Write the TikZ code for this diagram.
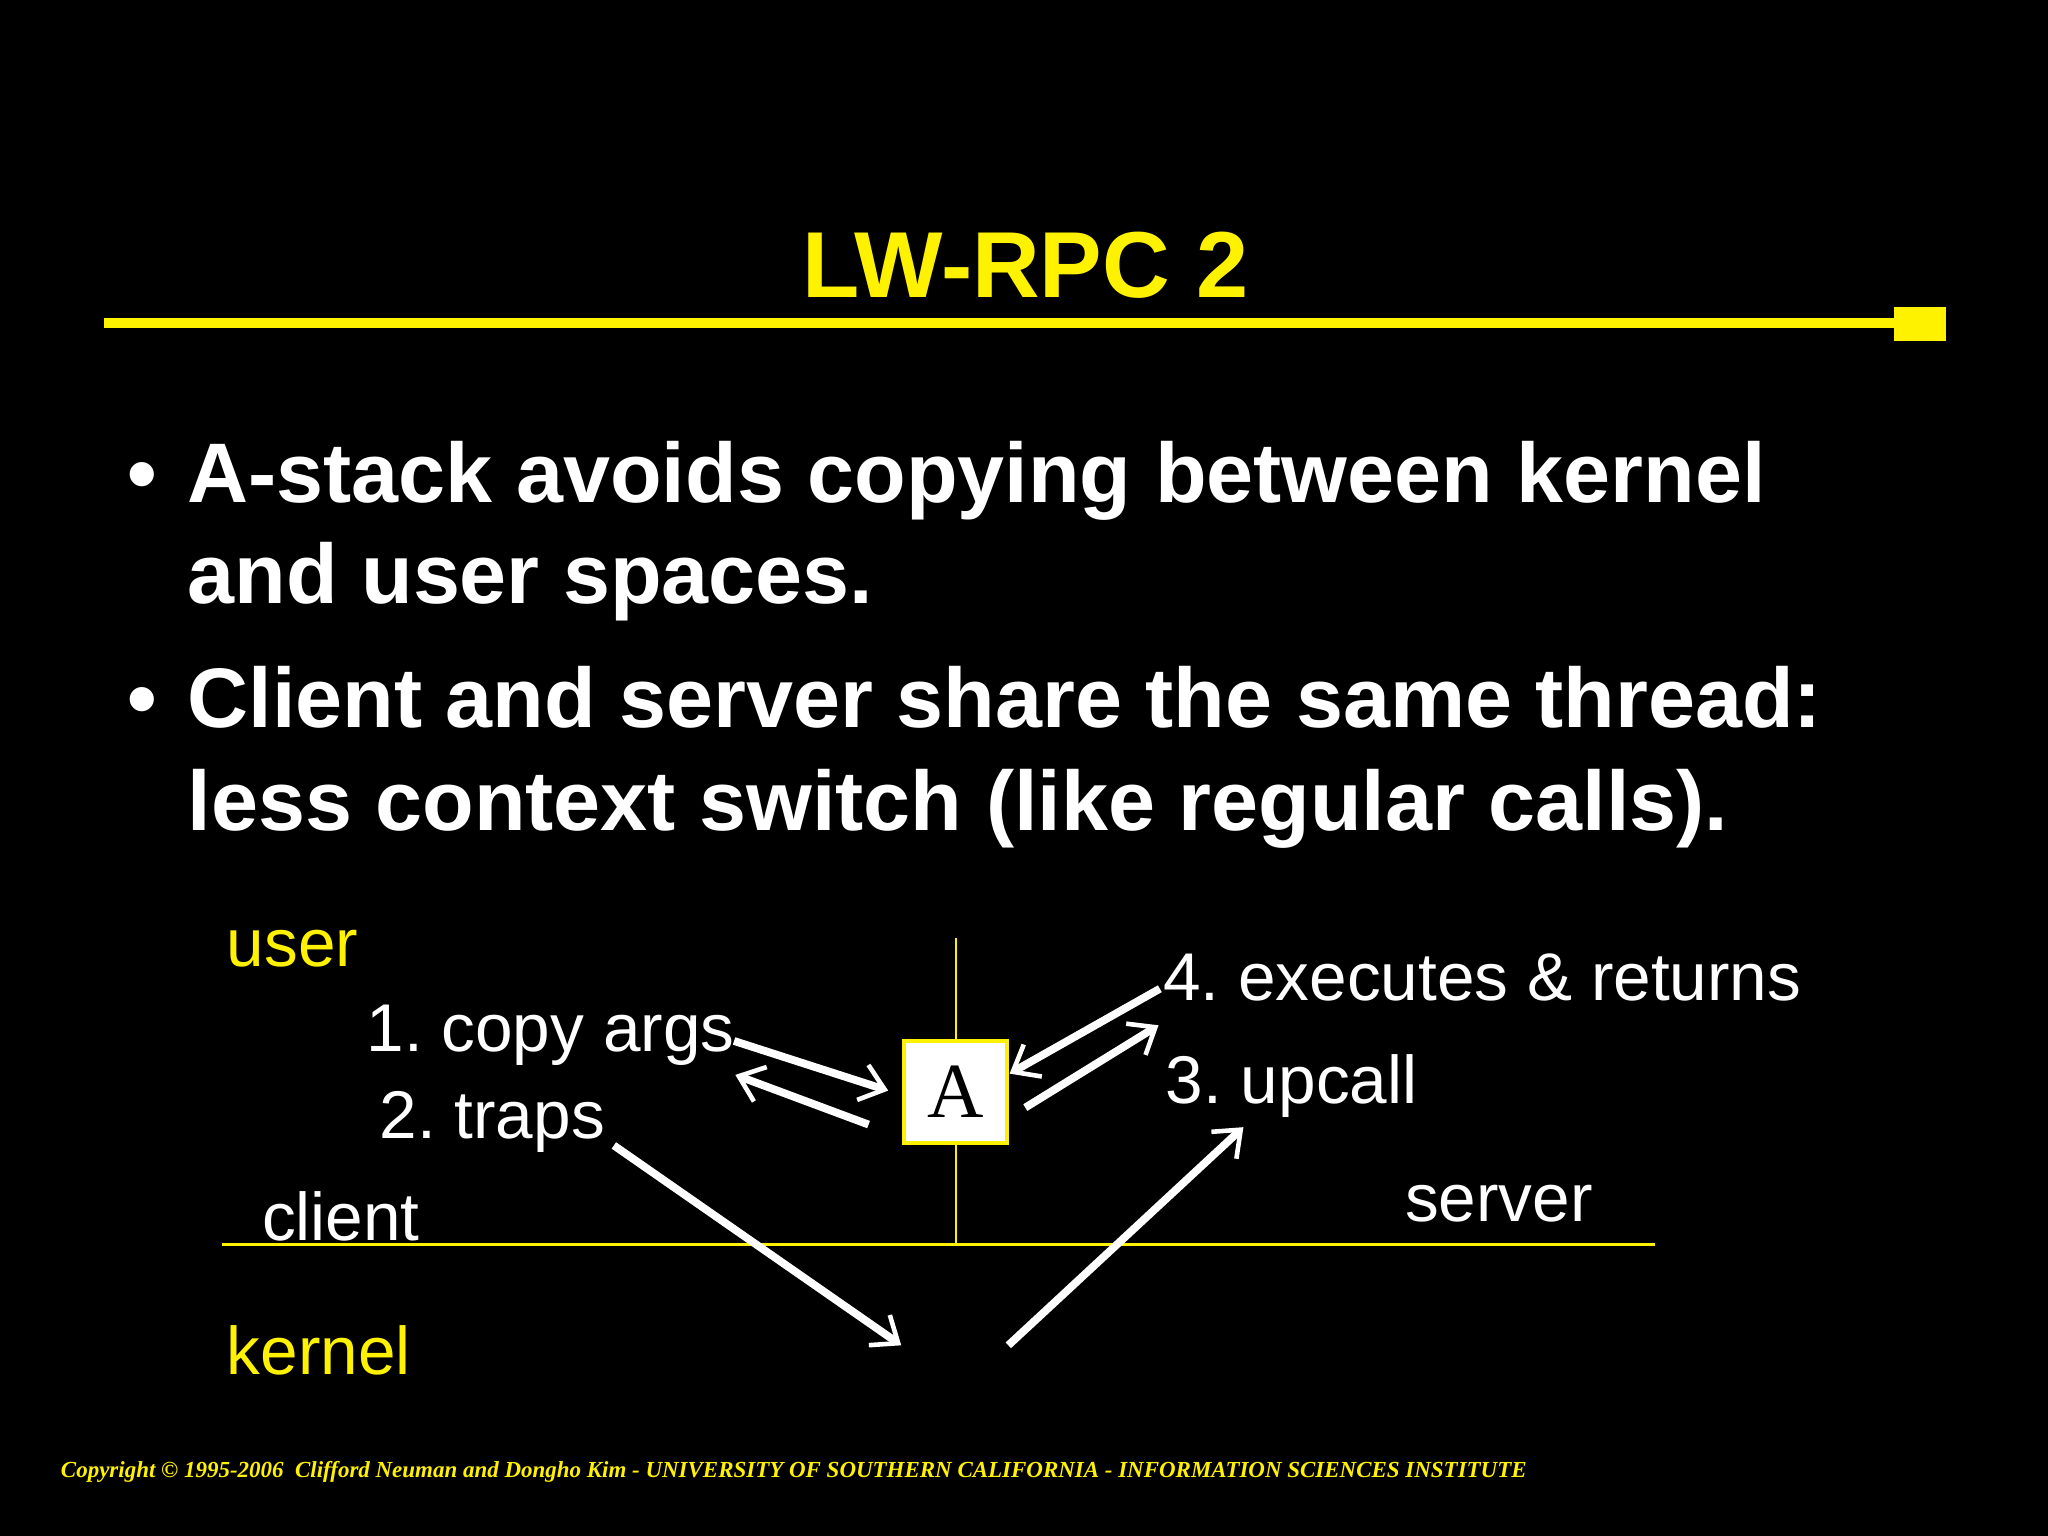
\documentclass[tikz,border=0pt]{standalone}
\usepackage{fontspec}
\setmainfont{Liberation Sans}
\newfontfamily\tms{Liberation Serif}
\usetikzlibrary{arrows.meta}
\begin{document}
\frenchspacing
\begin{tikzpicture}[x=0.01cm,y=-0.01cm,
  lbl/.style={anchor=base west,inner sep=0,text=white,font=\fontsize{14.7}{16}\selectfont},
  ylbl/.style={lbl,text=yellow},
  arr/.style={draw=white,line width=1.7pt,-{Straight Barb[length=5pt,width=8pt,line width=1pt]}},
  bul/.style={anchor=base west,inner sep=0,text=white,font=\fontsize{18.4}{21}\bfseries\selectfont}]
\fill[black] (0,0) rectangle (1568,1176);
\node[anchor=base,inner sep=0,text=yellow,font=\fontsize{20.4}{24}\bfseries\selectfont] (title) at (785,228) {LW-RPC 2};
\draw[yellow,line width=2.2pt] (80,247) -- (1450,247);
\fill[yellow] (1450,235) rectangle (1490,261);
\node[bul] (b1) at (97,385) {\textbullet};
\node[bul] (t1) at (143,385) {A-stack avoids copying between kernel};
\node[bul] (t2) at (143,462) {and user spaces.};
\node[bul] (b2) at (97,557) {\textbullet};
\node[bul] (t3) at (143,557) {Client and server share the same thread:};
\node[bul] (t4) at (143,636) {less context switch (like regular calls).};
\draw[yellow,line width=0.6pt] (732,718) -- (732,953);
\draw[yellow,line width=0.6pt] (170,953) -- (1267,953);
\node[ylbl] (user) at (173,740) {user};
\node[ylbl] (kernel) at (173,1052) {kernel};
\node[lbl] (client) at (200,950) {client};
\node[lbl] (server) at (1075,935) {server};
\node[lbl] (l1) at (280,805) {1. copy args};
\node[lbl] (l2) at (290,872) {2. traps};
\node[lbl] (l4) at (890,766) {4. executes \& returns};
\node[lbl] (l3) at (892,845) {3. upcall};
\node[draw=yellow,fill=white,line width=1pt,minimum width=0.79cm,minimum height=0.78cm,inner sep=0,font=\tms\fontsize{17}{20}\selectfont] (A) at (731.5,836) {A};
\coordinate (a1s) at (562,797); \coordinate (a1e) at (680,835);
\coordinate (a2s) at (665,861); \coordinate (a2e) at (563,823);
\coordinate (a3s) at (888,757); \coordinate (a3e) at (773,822);
\coordinate (a4s) at (785,848); \coordinate (a4e) at (887,785);
\coordinate (a5s) at (470,877); \coordinate (a5e) at (690,1030);
\coordinate (a6s) at (772,1030); \coordinate (a6e) at (952,863);
\draw[arr] (a1s) -- (a1e);
\draw[arr] (a2s) -- (a2e);
\draw[arr] (a3s) -- (a3e);
\draw[arr] (a4s) -- (a4e);
\draw[arr] (a5s) -- (a5e);
\draw[arr] (a6s) -- (a6e);
\node[anchor=base west,inner sep=0,text=yellow,font=\tms\fontsize{5.0}{6}\bfseries\itshape\selectfont] (copy) at (46,1131) {Copyright © 1995-2006~ Clifford Neuman and Dongho Kim - UNIVERSITY OF SOUTHERN CALIFORNIA - INFORMATION SCIENCES INSTITUTE};
\end{tikzpicture}
\end{document}
